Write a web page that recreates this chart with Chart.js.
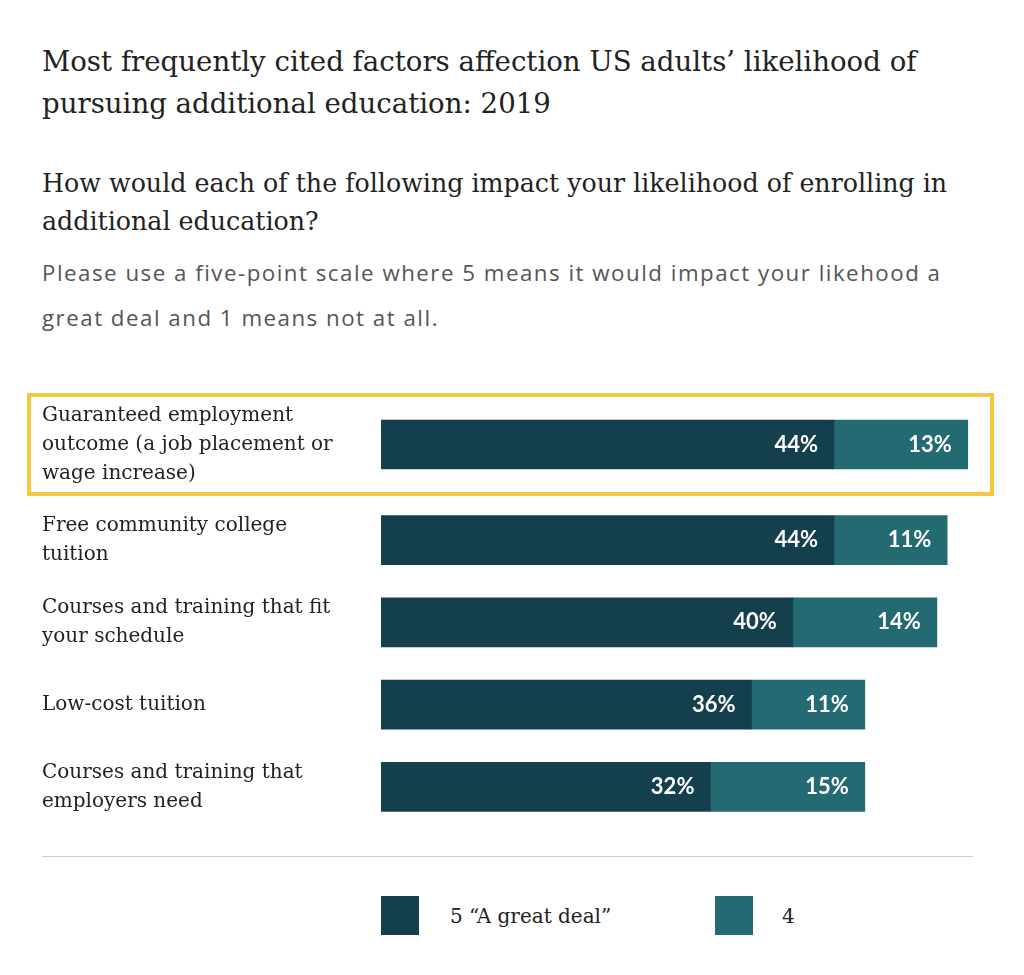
<!DOCTYPE html>
<html>
<head>
<meta charset="utf-8">
<script src="https://cdn.jsdelivr.net/npm/chart.js@4/dist/chart.umd.min.js"></script>
<style>
  body { margin: 0; background: #fff; width: 1024px; height: 975px; position: relative; overflow: hidden; }
  .abs { position: absolute; }
  #title { left: 42px; top: 41px; width: 960px; font: 27.6px "DejaVu Serif", serif; line-height: 42px; color: #222; }
  #question { left: 42px; top: 165px; width: 960px; font: 25.3px "DejaVu Serif", serif; line-height: 38px; color: #222; }
  #note { left: 42px; top: 250px; width: 930px; font: 22.3px "Open Sans", sans-serif; line-height: 45px; color: #555; letter-spacing: 1.5px; }
  #highlight { left: 27px; top: 393px; width: 967px; height: 103px; border: 4px solid #F1C743; box-sizing: border-box; }
  #rule { left: 42px; top: 856px; width: 931px; height: 1px; background: #ccc; }
  .sw { width: 38px; height: 39px; top: 896px; }
  .lt { top: 898px; font: 20px "DejaVu Serif", serif; line-height: 36px; color: #222; }
</style>
</head>
<body>
<div id="title" class="abs">Most frequently cited factors affection US adults’ likelihood of pursuing additional education: 2019</div>
<div id="question" class="abs">How would each of the following impact your likelihood of enrolling in additional education?</div>
<div id="note" class="abs">Please use a five-point scale where 5 means it would impact your likehood a great deal and 1 means not at all.</div>
<div id="highlight" class="abs"></div>
<div class="abs" style="left:0;top:396px;width:1024px;height:97px"><canvas id="chartTop"></canvas></div>
<div class="abs" style="left:0;top:499px;width:1024px;height:329px"><canvas id="chartRest"></canvas></div>
<div id="rule" class="abs"></div>
<div id="legend"></div>
<script>
const categories = [
  ['Guaranteed employment', 'outcome (a job placement or', 'wage increase)'],
  ['Free community college', 'tuition'],
  ['Courses and training that fit', 'your schedule'],
  ['Low-cost tuition'],
  ['Courses and training that', 'employers need']
];
const greatDeal = [44, 44, 40, 36, 32];
const four = [13, 11, 14, 11, 15];
const seriesNames = ['5 “A great deal”', '4'];
const seriesColors = ['#143F4C', '#236A73'];

// white percentage labels inside the right end of each segment
const valueLabels = {
  id: 'valueLabels',
  afterDatasetsDraw(chart) {
    const ctx = chart.ctx;
    ctx.save();
    ctx.fillStyle = '#fff';
    ctx.font = 'bold 22px Lato, sans-serif';
    ctx.textAlign = 'right';
    ctx.textBaseline = 'middle';
    chart.data.datasets.forEach((ds, i) => {
      chart.getDatasetMeta(i).data.forEach((bar, j) => {
        ctx.fillText(ds.data[j] + '%', bar.x - 16, bar.y);
      });
    });
    ctx.restore();
  }
};

function makeChart(id, from, to, padY) {
  return new Chart(document.getElementById(id), {
    type: 'bar',
    data: {
      labels: categories.slice(from, to),
      datasets: [
        { label: seriesNames[0], data: greatDeal.slice(from, to), backgroundColor: seriesColors[0] },
        { label: seriesNames[1], data: four.slice(from, to), backgroundColor: seriesColors[1] }
      ]
    },
    options: {
      indexAxis: 'y',
      responsive: true,
      maintainAspectRatio: false,
      animation: false,
      barThickness: 49,
      layout: { padding: { left: 42, right: 48, top: padY, bottom: padY } },
      plugins: { legend: { display: false }, tooltip: { enabled: false } },
      scales: {
        x: { stacked: true, min: 0, max: 57.8, display: false },
        y: {
          stacked: true,
          grid: { display: false },
          border: { display: false },
          afterFit(axis) {
            axis.width = 339;
            axis.paddingTop = 0;
            axis.paddingBottom = 0;
          },
          ticks: {
            crossAlign: 'far',
            color: '#222',
            font: { family: '"DejaVu Serif", serif', size: 20, lineHeight: 1.45 }
          }
        }
      }
    },
    plugins: [valueLabels]
  });
}

makeChart('chartTop', 0, 1, 7);
makeChart('chartRest', 1, 5, 0);

const legend = document.getElementById('legend');
const swatchX = [381, 715];
const textX = [450, 782];
seriesNames.forEach((name, i) => {
  const sw = document.createElement('div');
  sw.className = 'abs sw';
  sw.style.left = swatchX[i] + 'px';
  sw.style.background = seriesColors[i];
  legend.appendChild(sw);
  const t = document.createElement('div');
  t.className = 'abs lt';
  t.style.left = textX[i] + 'px';
  t.textContent = name;
  legend.appendChild(t);
});
</script>
</body>
</html>
